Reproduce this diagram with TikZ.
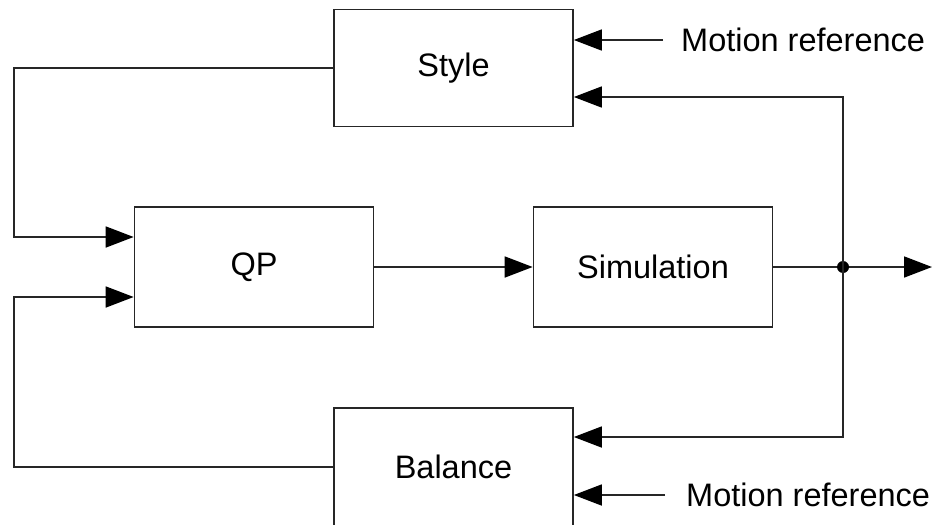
\documentclass[tikz,border=0pt]{standalone}
\usepackage{fontspec}
\setmainfont{Liberation Sans}
\usetikzlibrary{arrows.meta}
\begin{document}
\begin{tikzpicture}[x=1pt,y=-1pt,
  blk/.style={draw=black!85,line width=1.7pt,minimum width=239pt,minimum height=117pt,inner sep=0pt,font=\fontsize{32.5}{38}\selectfont},
  conn/.style={draw=black!85,line width=1.7pt},
  arr/.style={conn,-{Triangle[length=28pt,width=21pt,fill=black,color=black]}},
  lbl/.style={font=\fontsize{32.5}{38}\selectfont,anchor=west,inner sep=0pt}]
\useasboundingbox (0,0) rectangle (943,525);
\node[blk] (style) at (453.5,68) {Style};
\node[blk,minimum height=120pt] (qp) at (254,267) {QP};
\node[blk,minimum height=120pt] (sim) at (653,267) {Simulation};
\node[blk,minimum height=118pt] (bal) at (453.5,467) {Balance};
\coordinate (dot) at (843,267);
\coordinate (out) at (932,267);
\node[lbl] (mr1) at (681,40) {Motion reference};
\node[lbl] (mr2) at (686,495) {Motion reference};
\coordinate (mr1s) at (663,40);
\coordinate (mr2s) at (665,495);
% QP to Simulation
\draw[arr] (qp.east) -- (sim.west);
% Simulation output
\draw[arr] (sim.east) -- (out);
\fill[black] (dot) circle (6pt);
% feedback to Style and Balance
\draw[arr] (dot) |- (style.east |- 0,97);
\draw[arr] (dot) |- (bal.east |- 0,437);
% motion references
\draw[arr] (mr1s) -- (style.east |- mr1s);
\draw[arr] (mr2s) -- (bal.east |- mr2s);
% left loops
\draw[arr] (style.west) -- (14,68) |- (qp.west |- 0,237);
\draw[arr] (bal.west) -- (14,467) |- (qp.west |- 0,297);
\end{tikzpicture}
\end{document}
